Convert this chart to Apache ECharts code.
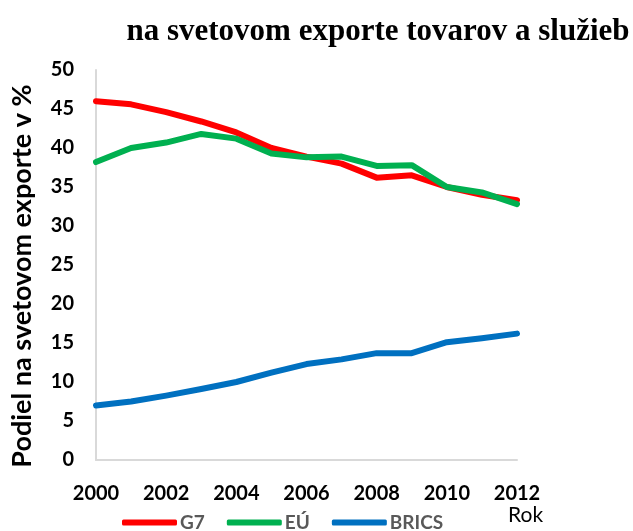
<!DOCTYPE html>
<html>
<head>
<meta charset="utf-8">
<script src="https://cdn.jsdelivr.net/npm/echarts@6/dist/echarts.min.js"></script>
<style>
  html, body { margin: 0; padding: 0; background: #fff; }
  #chart { width: 633px; height: 531px; }
</style>
</head>
<body>
<div id="chart"></div>
<script>
// roky a podiely (%)
const years = [2000, 2001, 2002, 2003, 2004, 2005, 2006, 2007, 2008, 2009, 2010, 2011, 2012];
const g7 = [46.0, 45.6, 44.6, 43.4, 42.0, 40.0, 38.9, 38.0, 36.2, 36.5, 35.0, 34.0, 33.3];
const eu = [38.2, 40.0, 40.7, 41.8, 41.2, 39.3, 38.8, 38.9, 37.7, 37.8, 35.0, 34.3, 32.8];
const brics = [7.0, 7.5, 8.25, 9.1, 10.0, 11.2, 12.3, 12.9, 13.7, 13.7, 15.1, 15.6, 16.2];

const pairs = arr => years.map((y, i) => [y, arr[i]]);

const chart = echarts.init(document.getElementById('chart'));

const mkSeries = (name, data, color) => ({
    name: name,
    type: 'line',
    data: pairs(data),
    showSymbol: false,
    lineStyle: { color: color, width: 6, cap: 'round', join: 'round' },
    itemStyle: { color: color }
});

chart.setOption({
    animation: false,
    title: {
        text: 'na svetovom exporte tovarov a služieb',
        left: 373, textAlign: 'center', top: 11,
        textStyle: { fontFamily: 'Liberation Serif', fontWeight: 'bold', fontSize: 31, color: '#000' }
    },
    grid: { left: 96, right: 116, top: 70, bottom: 71 },
    legend: {
        left: 117, top: 508,
        itemWidth: 55, itemHeight: 6, itemGap: 22,
        icon: 'roundRect',
        textStyle: { fontFamily: 'Lato', fontWeight: 'bold', fontSize: 19, color: '#595959', padding: [0, 0, 0, -2] },
        data: ['G7', 'EÚ', 'BRICS']
    },
    xAxis: {
        type: 'value', min: 2000, max: 2012, interval: 2,
        axisLine: { show: true, lineStyle: { color: '#d9d9d9', width: 2 } },
        axisTick: { show: false },
        splitLine: { show: false },
        axisLabel: {
            margin: 24, fontFamily: 'Lato', fontWeight: 'bold', fontSize: 20, color: '#000',
            formatter: v => String(v)
        }
    },
    yAxis: {
        type: 'value', min: 0, max: 50, interval: 5,
        name: 'Podiel na svetovom exporte v %',
        nameLocation: 'middle', nameGap: 60,
        nameTextStyle: {
            fontFamily: 'Lato', fontWeight: 'bold', fontSize: 27, color: '#000',
            padding: [0, 22, 0, 0]
        },
        axisLine: { show: true, lineStyle: { color: '#d9d9d9', width: 2 } },
        axisTick: { show: false },
        splitLine: { show: false },
        axisLabel: { margin: 22, fontFamily: 'Lato', fontWeight: 'bold', fontSize: 20, color: '#000' }
    },
    graphic: [{
        type: 'text', left: 508, top: 505,
        style: { text: 'Rok', fontFamily: 'Lato', fontSize: 21, fill: '#000' }
    }],
    series: [
        mkSeries('G7', g7, '#ff0000'),
        mkSeries('EÚ', eu, '#00b050'),
        mkSeries('BRICS', brics, '#0070c0')
    ]
});
</script>
</body>
</html>
